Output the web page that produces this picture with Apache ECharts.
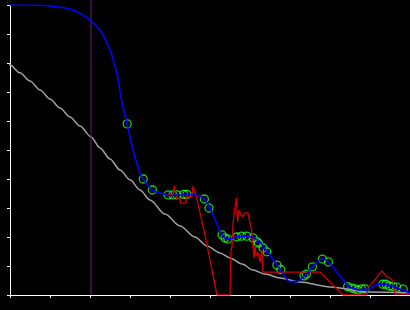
<!DOCTYPE html>
<html>
<head>
<meta charset="utf-8">
<script src="https://cdn.jsdelivr.net/npm/echarts@6/dist/echarts.min.js"></script>
<style>html,body{margin:0;padding:0;background:#000}#c{width:410px;height:310px}</style>
</head>
<body>
<div id="c"></div>
<script>
// Data (x in axis units 0..10, y in 0..1)
var grayCurve = [[-0.25,0.810],[0,0.793],[0.25,0.766],[0.5,0.738],[0.75,0.707],[1.0,0.676],[1.25,0.645],[1.5,0.614],[1.75,0.583],[2.025,0.545],[2.25,0.507],[2.5,0.469],[2.75,0.431],[3.0,0.397],[3.25,0.362],[3.5,0.328],[3.875,0.279],[4.25,0.238],[4.625,0.200],[4.925,0.169],[5.25,0.145],[5.5,0.128],[5.8,0.107],[6.075,0.086],[6.375,0.072],[6.75,0.059],[7.25,0.045],[8.0,0.028],[9.0,0.010],[10,0.007]];
var blueCurve = [[0,1.0],[0.75,0.999],[1.0,0.997],[1.5,0.986],[1.75,0.971],[2.0,0.948],[2.25,0.914],[2.5,0.845],[2.667,0.766],[2.79,0.672],[2.93,0.590],[3.075,0.5],[3.25,0.421],[3.33,0.4],[3.56,0.362],[3.75,0.352],[4.0,0.343],[4.375,0.345],[4.625,0.345],[4.85,0.331],[5.0,0.3],[5.29,0.21],[5.45,0.193],[5.67,0.2],[5.89,0.203],[6.1,0.197],[6.25,0.183],[6.33,0.169],[6.425,0.152],[6.675,0.103],[6.77,0.086],[7.0,0.046],[7.17,0.046],[7.35,0.066],[7.42,0.072],[7.56,0.097],[7.81,0.124],[7.96,0.114],[8.46,0.031],[8.625,0.021],[8.8,0.017],[9.0,0.021],[9.125,0.034],[9.33,0.037],[9.45,0.034],[9.575,0.029],[9.67,0.024],[9.82,0.017],[10,0.007]];
var rings = [[2.93,0.590],[3.33,0.400],[3.56,0.362],[3.95,0.345],[4.075,0.345],[4.175,0.345],[4.34,0.347],[4.425,0.347],[4.86,0.331],[4.975,0.300],[5.3,0.207],[5.375,0.197],[5.45,0.193],[5.67,0.2],[5.79,0.203],[5.92,0.203],[6.075,0.197],[6.175,0.183],[6.21,0.179],[6.325,0.162],[6.42,0.149],[6.675,0.103],[6.77,0.088],[7.35,0.066],[7.41,0.072],[7.56,0.097],[7.81,0.124],[7.96,0.114],[8.44,0.029],[8.54,0.024],[8.625,0.021],[8.7,0.017],[8.79,0.021],[8.875,0.021],[9.32,0.037],[9.4,0.037],[9.48,0.031],[9.57,0.029],[9.67,0.027],[9.83,0.020]];
var redLine = [[3.875,0.345],[4.075,0.345],[4.11,0.376],[4.15,0.376],[4.16,0.334],[4.25,0.334],[4.26,0.317],[4.4,0.317],[4.41,0.338],[4.55,0.338],[4.575,0.376],[4.6,0.376],[4.65,0.345],[4.875,0.207],[5.175,0],[5.5,0],[5.525,0.155],[5.55,0.166],[5.575,0.245],[5.61,0.286],[5.64,0.286],[5.66,0.334],[5.675,0.334],[5.69,0.252],[5.725,0.293],[5.775,0.293],[5.8,0.269],[5.85,0.269],[5.875,0.283],[5.95,0.283],[5.975,0.266],[6.01,0.266],[6.04,0.224],[6.075,0.166],[6.1,0.128],[6.125,0.172],[6.15,0.134],[6.2,0.148],[6.25,0.114],[6.3,0.155],[6.325,0.079],[7.75,0.079],[8.325,0],[8.925,0],[8.95,0.024],[9.3,0.083],[9.425,0.062],[9.5,0.059],[9.575,0.048],[9.6,0.048],[9.625,0.003],[10,0.003]];
var markerX = [[2.025,0],[2.025,1.017]];

var axisCommon = {
  type: 'value',
  axisLine: {show: true, lineStyle: {color: '#ffffff', width: 1}},
  axisTick: {show: true, inside: false, length: 3, lineStyle: {color: '#ffffff', width: 1}},
  axisLabel: {show: false},
  splitLine: {show: false}
};
var chart = echarts.init(document.getElementById('c'));
chart.setOption({
  backgroundColor: '#000000',
  animation: false,
  grid: {left: 10, right: 0, top: 5, bottom: 15, containLabel: false},
  xAxis: Object.assign({}, axisCommon, {min: 0, max: 10, interval: 1}),
  yAxis: Object.assign({}, axisCommon, {min: 0, max: 1, interval: 0.1}),
  series: [
    {type: 'line', data: grayCurve, smooth: 0.3, smoothMonotone: 'x', symbol: 'none', clip: false, lineStyle: {color: '#a0a0a0', width: 1.5}},
    {type: 'line', data: markerX, symbol: 'none', clip: false, lineStyle: {color: '#6a2272', width: 1}},
    {type: 'line', data: redLine, symbol: 'none', lineStyle: {color: '#cc0000', width: 1.3}},
    {type: 'line', data: blueCurve, smooth: 0.3, symbol: 'none', lineStyle: {color: '#0000ff', width: 1.6}},
    {type: 'scatter', data: rings, symbol: 'circle', symbolSize: 8, itemStyle: {color: 'rgba(0,0,0,0)', borderColor: '#22ff22', borderWidth: 1.3}},
    {type: 'scatter', data: rings, symbol: 'circle', symbolSize: 2, itemStyle: {color: '#0000ff'}}
  ]
});
</script>
</body>
</html>
